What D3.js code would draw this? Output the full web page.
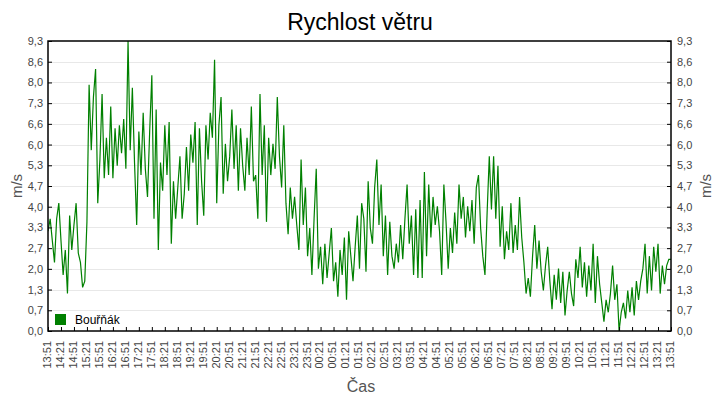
<!DOCTYPE html>
<html>
<head>
<meta charset="utf-8">
<script src="https://cdn.jsdelivr.net/npm/d3@7"></script>
<style>
  body { margin: 0; background: #fff; }
  svg { font-family: "Liberation Sans", Arial, sans-serif; display: block; }
</style>
</head>
<body>
<div id="chart"></div>
<script>
// wind speed, one reading every 5 minutes from 13:51 to 13:51 next day
const speeds = [
  3.2, 3.6, 2.9, 2.2, 3.6, 4.1, 2.9, 1.8, 2.6, 1.2, 3.7, 2.6, 3.4, 4.1, 2.5, 2.2, 1.4, 1.6, 3.5,
  7.9, 5.8, 7.5, 8.4, 4.1, 5.5, 7.6, 4.9, 6.2, 5.0, 7.2, 4.9, 6.5, 5.3, 6.6, 5.7, 6.8, 5.2, 9.3,
  5.8, 7.8, 5.4, 3.4, 6.4, 5.0, 7.0, 5.2,
  4.3, 6.4, 8.2, 3.6, 7.1, 2.6, 5.4, 4.5, 6.6, 5.0, 6.7, 2.8, 4.8, 3.6, 4.6, 5.6, 3.6, 4.4, 5.9,
  4.5, 6.3, 5.4, 6.7, 3.4, 6.5, 4.8, 3.7, 6.6, 5.5, 7.0, 6.2, 8.7, 4.1, 6.6, 7.5, 4.4, 6.0, 4.8,
  5.6, 7.1, 5.2, 6.6, 4.5, 6.5, 5.3, 4.5, 6.2, 5.0, 7.2, 4.8, 5.0, 3.6, 7.6,
  5.0, 6.6, 3.5, 6.2, 5.0, 6.0, 5.2, 7.5, 5.6, 4.6, 6.6, 4.1, 3.1, 4.6, 3.6, 4.3, 3.4, 2.6, 5.5,
  3.4, 4.6, 2.4, 3.3, 1.8, 3.6, 5.2, 2.0, 2.7, 1.5, 2.8, 1.7, 2.5, 3.3, 1.6, 2.2, 1.1, 2.6, 1.8,
  3.0, 1.0, 3.2, 2.4, 1.6, 2.7, 3.7,
  2.0, 4.1, 3.6, 1.9, 4.8, 3.3, 2.8, 4.6, 5.5, 3.4, 4.7, 2.4, 3.7, 1.8, 3.5, 2.4, 2.0, 2.8, 2.2,
  3.4, 2.3, 3.6, 4.7, 2.8, 3.7, 1.8, 3.9, 1.7, 4.2, 1.7, 5.1, 2.4, 4.7, 3.0, 4.3, 3.4, 4.0, 3.2,
  1.8, 4.7, 3.5, 2.0, 3.3, 2.5, 3.8, 2.8, 4.7, 3.6,
  4.3, 3.0, 4.0, 3.2, 4.2, 2.8, 4.6, 5.0, 3.3, 2.4, 1.8, 3.8, 5.6, 3.9, 5.6, 3.6, 5.3, 2.7, 4.0,
  2.3, 3.2, 2.6, 4.1, 2.5, 3.4, 2.6, 4.3, 3.0, 2.2, 1.2, 1.7, 1.1, 2.4, 3.4, 2.0, 2.9, 1.9, 1.3,
  2.1, 2.7, 1.6, 0.7, 1.8, 1.0, 2.0, 0.9, 1.9, 0.5,
  1.3, 1.9, 1.2, 0.8, 2.3, 1.7, 2.7, 1.4, 2.2, 1.1, 2.1, 1.3, 2.8, 0.9, 2.4, 1.5, 0.9, 0.3, 1.0,
  0.6, 1.2, 2.1, 1.0, 1.5, 0.0, 0.6, 0.9, 0.4, 1.3, 0.6, 1.4, 0.5, 1.6, 1.0, 1.6, 2.0, 2.8, 1.2,
  2.4, 1.3, 2.7, 1.9, 2.8, 1.2, 2.1, 1.5, 2.1, 2.3, 2.3
];

const yTickValues = [0, 0.664, 1.329, 1.993, 2.657, 3.321, 3.986, 4.65, 5.314, 5.979, 6.643, 7.307, 7.971, 8.636, 9.3];
const yTickLabels = ["0,0", "0,7", "1,3", "2,0", "2,7", "3,3", "4,0", "4,7", "5,3", "6,0", "6,6", "7,3", "8,0", "8,6", "9,3"];

const seriesName = "Bouřňák";
const title = "Rychlost větru";
const yTitle = "m/s";
const xTitle = "Čas";

const W = 720, H = 400;
const plotL = 48, plotR = 671, plotT = 41, plotB = 331;

const start = new Date(2024, 0, 1, 13, 51);
const end = d3.timeHour.offset(start, 24);
const data = speeds.map((v, i) => ({ t: d3.timeMinute.offset(start, i * 5), v }));
const xTicks = d3.range(0, 49).map(i => d3.timeMinute.offset(start, i * 30));

const svg = d3.select("#chart").append("svg")
  .attr("width", W)
  .attr("height", H);

const x = d3.scaleTime().domain([start, end]).range([plotL, plotR]);
const y = d3.scaleLinear().domain([0, 9.3]).range([plotB, plotT]);

// grid
svg.append("g")
  .selectAll("line")
  .data(yTickValues.slice(1, -1))
  .join("line")
  .attr("x1", plotL).attr("x2", plotR)
  .attr("y1", d => Math.round(y(d)) + 0.5)
  .attr("y2", d => Math.round(y(d)) + 0.5)
  .attr("stroke", "#e8e8e8");

// series
svg.append("clipPath").attr("id", "clip")
  .append("rect")
  .attr("x", plotL).attr("y", plotT)
  .attr("width", plotR - plotL).attr("height", plotB - plotT + 1);

const line = d3.line()
  .x(d => x(d.t))
  .y(d => y(d.v));

svg.append("path")
  .datum(data)
  .attr("clip-path", "url(#clip)")
  .attr("fill", "none")
  .attr("stroke", "#008000")
  .attr("stroke-width", 1.2)
  .attr("stroke-linejoin", "miter")
  .attr("d", line);

// axes
const fmtY = (d, i) => yTickLabels[i];

const yLeft = svg.append("g")
  .attr("transform", `translate(${plotL},0)`)
  .call(d3.axisLeft(y).tickValues(yTickValues).tickFormat(fmtY).tickSize(-4).tickPadding(5));

const yRight = svg.append("g")
  .attr("transform", `translate(${plotR},0)`)
  .call(d3.axisRight(y).tickValues(yTickValues).tickFormat(fmtY).tickSize(-4).tickPadding(6));

const xAxis = svg.append("g")
  .attr("transform", `translate(0,${plotB})`)
  .call(d3.axisBottom(x).tickValues(xTicks).tickFormat(d3.timeFormat("%H:%M")).tickSize(-4));

xAxis.selectAll("text")
  .attr("transform", "rotate(-90)")
  .attr("text-anchor", "end")
  .attr("x", -10)
  .attr("y", 0)
  .attr("dy", "0.22em");

[yLeft, yRight, xAxis].forEach(g => {
  g.select(".domain").remove();
  g.selectAll(".tick line").attr("stroke", "#000");
  g.selectAll("text")
    .attr("fill", "#444")
    .style("font-size", "11px");
});

// frame
svg.append("rect")
  .attr("x", plotL).attr("y", plotT)
  .attr("width", plotR - plotL).attr("height", plotB - plotT)
  .attr("fill", "none")
  .attr("stroke", "#000")
  .attr("stroke-width", 1.5);

// titles
svg.append("text")
  .attr("x", W / 2)
  .attr("y", 30)
  .attr("text-anchor", "middle")
  .style("font-size", "23px")
  .attr("fill", "#000")
  .text(title);

svg.append("text")
  .attr("transform", `translate(22,${(plotT + plotB) / 2}) rotate(-90)`)
  .attr("text-anchor", "middle")
  .style("font-size", "15px")
  .attr("fill", "#555")
  .text(yTitle);

svg.append("text")
  .attr("transform", `translate(711,${(plotT + plotB) / 2}) rotate(-90)`)
  .attr("text-anchor", "middle")
  .style("font-size", "15px")
  .attr("fill", "#555")
  .text(yTitle);

svg.append("text")
  .attr("x", W / 2 + 1)
  .attr("y", 392)
  .attr("text-anchor", "middle")
  .style("font-size", "16px")
  .attr("fill", "#555")
  .text(xTitle);

// legend
const legend = svg.append("g").attr("transform", "translate(55,314)");
legend.append("rect")
  .attr("width", 11).attr("height", 11)
  .attr("fill", "#008000");
legend.append("text")
  .attr("x", 20).attr("y", 10)
  .style("font-size", "12px")
  .attr("fill", "#000")
  .text(seriesName);
</script>
</body>
</html>
